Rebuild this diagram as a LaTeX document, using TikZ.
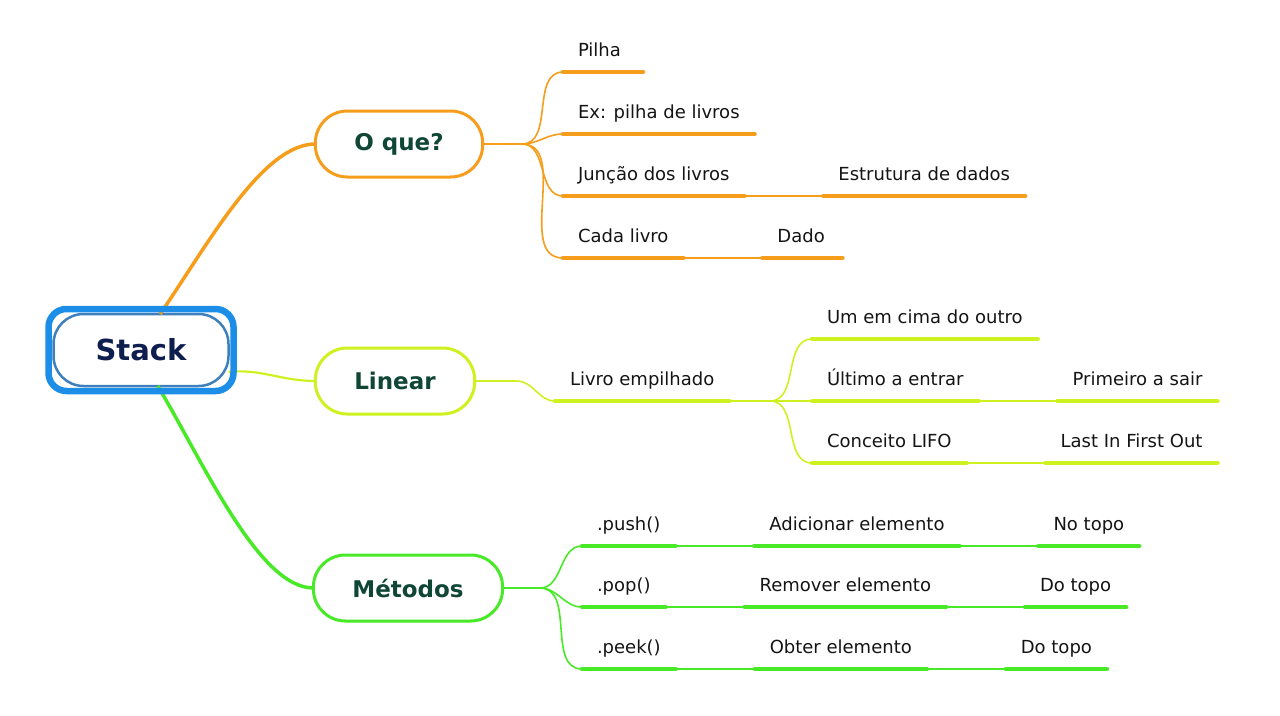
\documentclass[tikz,border=0pt]{standalone}
\usepackage{fontspec}
\setmainfont{DejaVu Sans}
\usetikzlibrary{positioning,calc}
\definecolor{orng}{RGB}{246,158,28}
\definecolor{lime}{RGB}{206,242,32}
\definecolor{grn}{RGB}{72,234,40}
\definecolor{stk}{RGB}{28,142,232}
\definecolor{stkin}{RGB}{62,128,190}
\definecolor{topictext}{RGB}{16,70,54}
\definecolor{stacktext}{RGB}{14,30,78}
\definecolor{leaftext}{RGB}{20,20,20}

\begin{document}
\begin{tikzpicture}[x=1pt,y=-1pt,
	leaf/.style={anchor=south west,inner xsep=15pt,inner ysep=16pt,outer sep=0pt,text height=13pt,text depth=0pt,text=leaftext,font=\fontsize{18}{21}\selectfont},
	short/.style={text width=50pt},
	topic/.style={draw,line width=3pt,rounded corners=32pt,minimum height=66pt,inner xsep=39pt,outer sep=0pt,fill=white,text=topictext,font=\bfseries\fontsize{23}{26}\selectfont},
	stacknode/.style={draw=stkin,line width=2.5pt,rounded corners=30pt,minimum width=175pt,minimum height=72pt,outer sep=0pt,fill=white,text=stacktext,font=\bfseries\fontsize{29}{32}\selectfont},
	uline/.style={line width=4.5pt,line cap=round},
	link/.style={line width=1.3pt},
	branch/.style={line width=1.6pt}]
\useasboundingbox (0,0) rectangle (1280,715);

\node[stacknode] (stack) at (141,350) {Stack};
\node[topic,draw=orng] (oque) at (399,144) {O que?};
\node[topic,draw=lime] (linear) at (395,381) {Linear};
\node[topic,draw=grn] (metodos) at (408,588) {Métodos};

% O que?
\node[leaf,short] (pilha) at (563,72) {Pilha};
\node[leaf] (ex) at (563,134) {Ex: pilha de livros};
\node[leaf] (juncao) at (563,196) {Junção dos livros};
\node[leaf,right=79pt of juncao] (estrutura) {Estrutura de dados};
\node[leaf] (cada) at (563,258) {Cada livro};
\node[leaf,short,right=79pt of cada] (dado) {Dado};

% Linear
\node[leaf] (livro) at (555,401) {Livro empilhado};
\node[leaf] (um) at (812,339) {Um em cima do outro};
\node[leaf] (ultimo) at (812,401) {Último a entrar};
\node[leaf,right=79pt of ultimo] (primeiro) {Primeiro a sair};
\node[leaf] (conceito) at (812,463) {Conceito LIFO};
\node[leaf,right=79pt of conceito] (last) {Last In First Out};

% Metodos
\node[leaf] (push) at (582,546) {.push()};
\node[leaf,right=79pt of push] (adic) {Adicionar elemento};
\node[leaf,right=79pt of adic] (notopo) {No topo};
\node[leaf] (pop) at (582,607) {.pop()};
\node[leaf,right=79pt of pop] (remov) {Remover elemento};
\node[leaf,right=79pt of remov] (dotopo) {Do topo};
\node[leaf] (peek) at (582,669) {.peek()};
\node[leaf,right=79pt of peek] (obter) {Obter elemento};
\node[leaf,right=79pt of obter] (dotopob) {Do topo};

\coordinate (qfork) at (522,144);
\coordinate (lfork) at (770,401);
\coordinate (mfork) at (540,588);

\draw[orng,line width=3.5pt] (stack.62) .. controls +(48,-70) and +(-53,0) .. (oque.west);
\draw[lime,line width=2.2pt] (stack.-14) to[out=5,in=180] (linear.west);
\draw[grn,line width=3.5pt] (stack.-65) .. controls +(45,75) and +(-55,0) .. (metodos.west);

\foreach \n in {pilha,ex,juncao,estrutura,cada,dado}
	\draw[uline,orng] (\n.south west) -- (\n.south east);
\foreach \n in {livro,um,ultimo,primeiro,conceito,last}
	\draw[uline,lime] (\n.south west) -- (\n.south east);
\foreach \n in {push,adic,notopo,pop,remov,dotopo,peek,obter,dotopob}
	\draw[uline,grn] (\n.south west) -- (\n.south east);

\draw[branch,orng] (oque.east) -- (qfork);
\foreach \n in {pilha,ex,juncao,cada}
	\draw[branch,orng] (qfork) to[out=0,in=180] (\n.south west);
\draw[link,orng] (juncao.south east) -- (estrutura.south west);
\draw[link,orng] (cada.south east) -- (dado.south west);

\draw[branch,lime] (linear.east) -- ++(42,0) to[out=0,in=180] (livro.south west);
\draw[link,lime] (livro.south east) -- (lfork);
\foreach \n in {um,ultimo,conceito}
	\draw[branch,lime] (lfork) to[out=0,in=180] (\n.south west);
\draw[link,lime] (ultimo.south east) -- (primeiro.south west);
\draw[link,lime] (conceito.south east) -- (last.south west);

\draw[branch,grn] (metodos.east) -- (mfork);
\foreach \n in {push,pop,peek}
	\draw[branch,grn] (mfork) to[out=0,in=180] (\n.south west);
\draw[link,grn] (push.south east) -- (adic.south west);
\draw[link,grn] (adic.south east) -- (notopo.south west);
\draw[link,grn] (pop.south east) -- (remov.south west);
\draw[link,grn] (remov.south east) -- (dotopo.south west);
\draw[link,grn] (peek.south east) -- (obter.south west);
\draw[link,grn] (obter.south east) -- (dotopob.south west);

% outer ring of Stack
\draw[stk,line width=6.5pt,rounded corners=18pt] ($(stack.north west)+(-5,-5)$) rectangle ($(stack.south east)+(5,5)$);
\end{tikzpicture}
\end{document}
